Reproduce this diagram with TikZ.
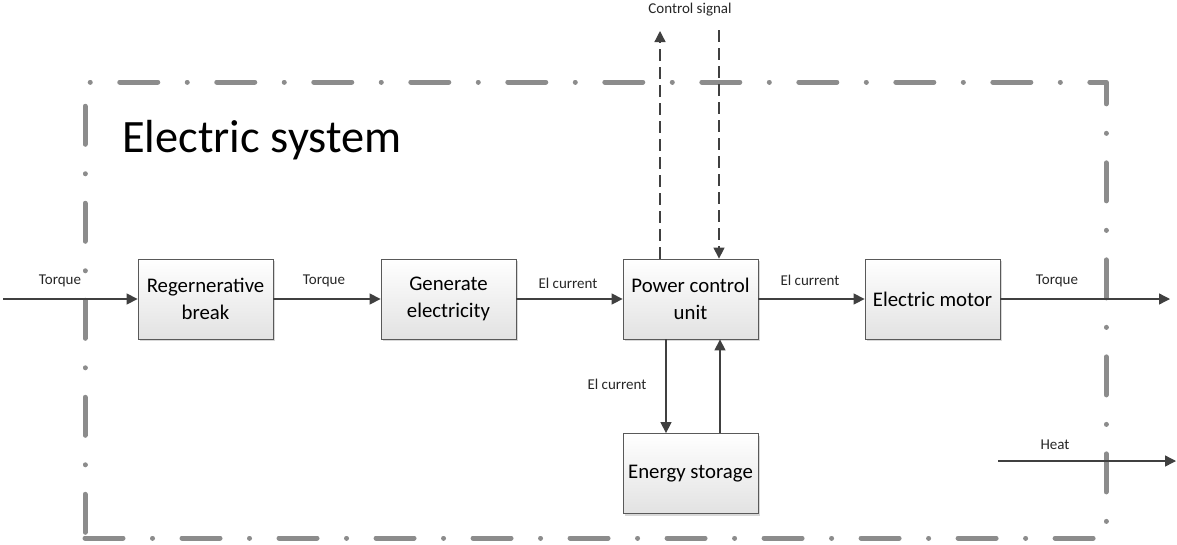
\documentclass[tikz,border=0pt]{standalone}
\usepackage{fontspec}
\setmainfont{Carlito}
\usetikzlibrary{arrows.meta,shadows}
\definecolor{flowc}{HTML}{404040}
\definecolor{boxline}{HTML}{595959}
\definecolor{boxbot}{HTML}{E2E2E2}
\definecolor{bordc}{HTML}{8C8C8C}
\begin{document}
\begin{tikzpicture}[x=1pt,y=-1pt,
  block/.style={draw=boxline, line width=0.8pt, top color=white, bottom color=boxbot,
    minimum width=135pt, minimum height=80pt, inner sep=0pt, align=center,
    font=\fontsize{20.8}{27}\selectfont,
    drop shadow={shadow xshift=2pt, shadow yshift=-2pt, fill=black!30, opacity=0.5}},
  flow/.style={draw=flowc, line width=1.3pt, -{Triangle[length=11pt,width=11pt]}},
  ctrl/.style={flow, dash pattern=on 12pt off 6pt},
  lbl/.style={font=\fontsize{15}{18}\selectfont, text=black!85, inner sep=0pt},
  border/.style={draw=bordc, line width=5pt, line cap=round, line join=round,
    dash pattern=on 38pt off 29.5pt on 0.01pt off 29.5pt}]
\useasboundingbox (0,0) rectangle (1177,544);

% system boundary
\draw[border] (85,538) -- (1106,538) -- (1106,82) -- (85,82) -- (85,538);
\node[anchor=base west, font=\fontsize{46.4}{52}\selectfont, inner sep=0pt] (title) at (122,152) {Electric system};

% blocks
\node[block] (rb)  at (205.5,299) {Regernerative\\break};
\node[block] (ge)  at (448.5,299) {Generate\\electricity};
\node[block] (pcu) at (690.5,299) {Power control\\unit};
\node[block] (em)  at (932.5,299) {Electric motor};
\node[block] (es)  at (690.5,473.5) {Energy storage};

% free ends
\coordinate (in)    at (3,299);
\coordinate (out)   at (1170,299);
\coordinate (heatS) at (998,461);
\coordinate (heatE) at (1176,461);
\coordinate (csUp)  at (660,31);
\coordinate (csDn)  at (719,30);

% flows
\draw[flow] (in) -- (rb.west);
\draw[flow] (rb.east) -- (ge.west);
\draw[flow] (ge.east) -- (pcu.west);
\draw[flow] (pcu.east) -- (em.west);
\draw[flow] (em.east) -- (out);
\draw[flow] ([xshift=-24.5pt]pcu.south) -- ([xshift=-24.5pt]es.north);
\draw[flow] ([xshift=29.5pt]es.north) -- ([xshift=29.5pt]pcu.south);
\draw[flow] (heatS) -- (heatE);
\draw[ctrl] ([xshift=-30.5pt]pcu.north) -- (csUp);
\draw[ctrl] (csDn) -- ([xshift=28.5pt]pcu.north);

% labels
\node[lbl] (l1) at (60,281) {Torque};
\node[lbl] (l2) at (324,281) {Torque};
\node[lbl] (l3) at (568,283) {El current};
\node[lbl] (l4) at (810,280) {El current};
\node[lbl] (l5) at (1057,281) {Torque};
\node[lbl] (l6) at (617,384) {El current};
\node[lbl] (l7) at (1055,445) {Heat};
\node[lbl] (l8) at (690,10) {Control signal};
\end{tikzpicture}
\end{document}
